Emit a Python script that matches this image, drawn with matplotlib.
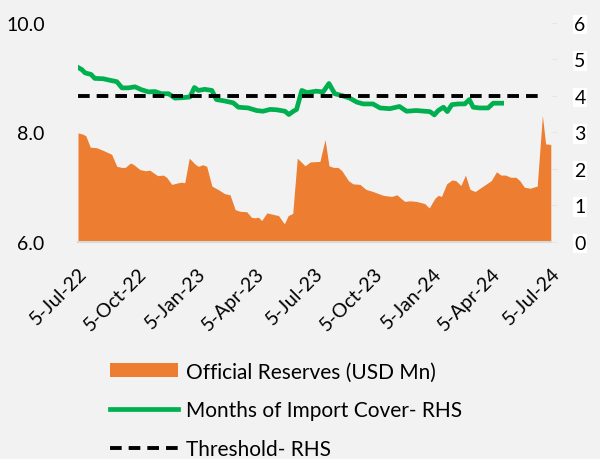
import pandas as pd
import matplotlib
matplotlib.use("Agg")
import matplotlib.pyplot as plt

plt.rcParams['font.family'] = ['Lato', 'DejaVu Sans']

start = pd.Timestamp("2022-07-05")

# official reserves (USD Mn, left axis) - day offset from 5-Jul-22, value
res_days = [0, 7, 12, 19, 29, 39, 52, 60, 68, 73, 81, 85, 96, 104, 111, 123, 132, 137,
            145, 155, 160, 165, 172, 181, 186, 193, 199, 207, 219, 227, 235, 243, 250,
            261, 268, 274, 279, 284, 292, 299, 310, 319, 325, 332, 339, 351, 359, 374,
            382, 388, 395, 402, 408, 418, 425, 436, 445, 456, 472, 485, 493, 505, 513,
            523, 536, 543, 552, 557, 562, 570, 578, 584, 592, 599, 606, 614, 639, 647,
            654, 661, 669, 677, 683, 690, 699, 710, 718, 723, 731]
reserves = [7.99, 7.97, 7.94, 7.73, 7.72, 7.67, 7.60, 7.38, 7.36, 7.36, 7.44, 7.42, 7.32,
            7.30, 7.31, 7.21, 7.22, 7.18, 7.05, 7.08, 7.09, 7.08, 7.53, 7.42, 7.38, 7.41,
            7.38, 7.02, 6.94, 6.88, 6.86, 6.59, 6.56, 6.55, 6.45, 6.44, 6.45, 6.39, 6.53,
            6.51, 6.48, 6.33, 6.48, 6.52, 7.53, 7.39, 7.46, 7.47, 7.87, 7.39, 7.36, 7.36,
            7.30, 7.12, 7.06, 7.05, 6.96, 6.92, 6.85, 6.83, 6.86, 6.74, 6.75, 6.74, 6.70,
            6.62, 6.80, 6.85, 6.83, 7.06, 7.13, 7.12, 7.03, 7.22, 6.96, 6.92, 7.12, 7.28,
            7.22, 7.22, 7.18, 7.18, 7.12, 7.00, 6.98, 7.02, 8.31, 7.79, 7.78]

# months of import cover (right axis)
cov_days = [0, 6, 11, 20, 26, 39, 49, 60, 68, 78, 88, 98, 109, 119, 129, 140, 150, 160,
            173, 180, 186, 196, 207, 214, 227, 240, 248, 263, 276, 286, 297, 307, 320,
            326, 333, 338, 346, 354, 365, 368, 379, 388, 397, 408, 420, 431, 441, 456,
            467, 482, 497, 508, 523, 536, 544, 551, 557, 565, 571, 578, 588, 598, 605,
            611, 621, 634, 642, 655]
cover = [4.78, 4.72, 4.63, 4.59, 4.48, 4.47, 4.43, 4.39, 4.22, 4.22, 4.25, 4.17, 4.11,
         4.12, 4.06, 4.06, 3.94, 3.95, 3.97, 4.23, 4.15, 4.18, 4.15, 3.90, 3.86, 3.81,
         3.69, 3.67, 3.60, 3.58, 3.63, 3.62, 3.58, 3.49, 3.58, 3.63, 4.15, 4.09, 4.12,
         4.13, 4.11, 4.34, 4.06, 4.01, 3.94, 3.83, 3.78, 3.78, 3.67, 3.65, 3.71, 3.58,
         3.60, 3.58, 3.57, 3.48, 3.60, 3.69, 3.57, 3.76, 3.78, 3.78, 3.90, 3.69, 3.67,
         3.67, 3.80, 3.80]

threshold_days = [0, 718]
threshold = [4, 4]

tick_dates = ["2022-07-05", "2022-10-05", "2023-01-05", "2023-04-05", "2023-07-05",
              "2023-10-05", "2024-01-05", "2024-04-05", "2024-07-05"]
tick_labels = ["5-Jul-22", "5-Oct-22", "5-Jan-23", "5-Apr-23", "5-Jul-23",
               "5-Oct-23", "5-Jan-24", "5-Apr-24", "5-Jul-24"]

res_x = start + pd.to_timedelta(res_days, unit="D")
cov_x = start + pd.to_timedelta(cov_days, unit="D")
thr_x = start + pd.to_timedelta(threshold_days, unit="D")

bg = "#F2F2F2"
fig = plt.figure(figsize=(6, 4.6), dpi=100, facecolor=bg)
ax = fig.add_axes([0.13, 0.472, 0.788, 0.476])
ax.set_facecolor("none")

area = ax.fill_between(res_x, 0, reserves, color="#ED7D31", lw=0,
                       label="Official Reserves (USD Mn)")
ax.set_ylim(6, 10)
ax.set_yticks([6, 8, 10])
ax.set_yticklabels(["6.0", "8.0", "10.0"])
ax.set_xlim(pd.Timestamp(tick_dates[0]), pd.Timestamp(tick_dates[-1]))
ax.set_xticks(pd.to_datetime(tick_dates))
ax.set_xticklabels(tick_labels, rotation=45, ha="right", rotation_mode="anchor")
ax.tick_params(axis="both", length=0, labelsize=14, colors="black")
ax.tick_params(axis="y", pad=24)
ax.tick_params(axis="x", pad=16)
for s in ["top", "left", "right"]:
    ax.spines[s].set_visible(False)
ax.spines["bottom"].set_color("#D9D9D9")
ax.spines["bottom"].set_linewidth(1.5)

ax2 = ax.twinx()
ln1, = ax2.plot(cov_x, cover, color="#00B050", lw=3.4,
                label="Months of Import Cover- RHS")
ln2, = ax2.plot(thr_x, threshold, color="black", lw=2.8, ls=(0, (3, 1.8)),
                label="Threshold- RHS")
ax2.set_ylim(0, 6)
ax2.set_yticks(range(0, 7))
ax2.tick_params(axis="y", length=4, color="#E6E6E6", labelsize=14, pad=13)
for lbl in ax2.get_yticklabels():
    lbl.set_bbox(dict(facecolor="white", edgecolor="none", pad=1))
for s in ax2.spines.values():
    s.set_visible(False)

fig.legend(handles=[area, ln1, ln2], loc="upper left",
           bbox_to_anchor=(0.183, 0.212), frameon=False, fontsize=15,
           borderpad=0, borderaxespad=0, handlelength=3.25, handletextpad=0.4,
           labelspacing=0.9)

fig.savefig("out.png", dpi=100, facecolor=bg)
